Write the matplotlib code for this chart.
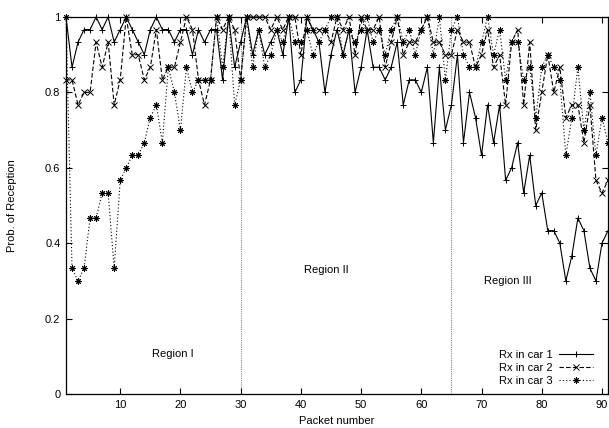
import matplotlib
matplotlib.use("Agg")
import matplotlib.pyplot as plt
import numpy as np

packets = list(range(1, 92))

car1 = [1, 0.8667, 0.9333, 0.9667, 0.9667, 1, 0.9667, 1, 0.9333, 0.9667,
        1, 0.9667, 0.9333, 0.9, 0.9667, 1, 0.9667, 0.9667, 0.9333, 0.9667,
        0.9667, 0.9, 0.9667, 0.9333, 0.9667, 0.9667, 0.8333, 1, 0.8667, 0.9333,
        1, 0.9, 0.9667, 0.9, 0.9333, 0.9667, 0.9, 1, 0.8, 0.8333,
        1, 0.9667, 0.9333, 0.8, 0.9, 0.9667, 0.9, 0.9667, 0.8, 0.8667,
        0.9667, 0.8667, 0.8667, 0.8333, 0.8667, 0.9333, 0.7667, 0.8333, 0.8333, 0.8,
        0.8667, 0.6667, 0.8667, 0.7, 0.7667, 0.9, 0.6667, 0.8, 0.7333, 0.6333,
        0.7667, 0.6667, 0.7667, 0.5667, 0.6, 0.6667, 0.5333, 0.6333, 0.5, 0.5333,
        0.4333, 0.4333, 0.4, 0.3, 0.3667, 0.4667, 0.4333, 0.3333, 0.3, 0.4,
        0.4333]

car2 = [0.8333, 0.8333, 0.7667, 0.8, 0.8, 0.9333, 0.8667, 0.9333, 0.7667, 0.8333,
        1, 0.9, 0.9, 0.8333, 0.8667, 0.9667, 0.8333, 0.8667, 0.8667, 0.9333,
        1, 0.9667, 0.8333, 0.7667, 0.8333, 1, 0.9667, 1, 0.9667, 0.8333,
        1, 1, 1, 1, 0.9667, 1, 0.9667, 1, 1, 0.9,
        1, 0.9667, 0.9667, 0.9667, 0.9333, 1, 0.9667, 1, 0.9, 1,
        0.9667, 0.9667, 1, 0.8667, 0.9333, 1, 0.9, 0.9333, 0.9333, 0.9667,
        1, 0.9333, 0.9333, 0.9, 0.9, 0.9667, 0.9333, 0.9333, 0.8667, 0.9,
        0.9667, 0.8667, 0.9, 0.7667, 0.9333, 0.9667, 0.7667, 0.9333, 0.7, 0.8,
        0.9, 0.8, 0.8667, 0.7333, 0.7667, 0.7667, 0.6667, 0.7667, 0.5667, 0.5333,
        0.5667]

car3 = [1, 0.3333, 0.3, 0.3333, 0.4667, 0.4667, 0.5333, 0.5333, 0.3333, 0.5667,
        0.6, 0.6333, 0.6333, 0.6667, 0.7333, 0.7667, 0.6667, 0.8667, 0.8, 0.7,
        0.8667, 0.8, 0.8333, 0.8333, 0.8333, 1, 0.8667, 1, 0.7667, 0.8333,
        1, 0.8667, 0.9667, 0.8667, 0.9, 0.9667, 0.9333, 1, 0.9333, 0.9333,
        0.9667, 0.9, 0.9333, 0.9667, 1, 1, 0.9, 0.9667, 0.9333, 0.9667,
        1, 0.9333, 0.9667, 0.9, 0.9667, 1, 0.9333, 0.9667, 0.9, 0.9667,
        1, 0.9, 1, 0.8333, 0.9667, 1, 0.9, 0.8667, 0.8667, 0.9333,
        1, 0.9, 0.9667, 0.8333, 0.9333, 0.9333, 0.8333, 0.8667, 0.7333, 0.8667,
        0.9, 0.8667, 0.8333, 0.6333, 0.7333, 0.8667, 0.7, 0.8, 0.6333, 0.7333,
        0.6667]

labels = ["Rx in car 1", "Rx in car 2", "Rx in car 3"]
region_bounds = [30, 65]
region_names = ["Region I", "Region II", "Region III"]
region_pos = [(18.7, 0.106), (44.3, 0.33), (74.3, 0.30)]
xticks = [10, 20, 30, 40, 50, 60, 70, 80, 90]
yticks = [0, 0.2, 0.4, 0.6, 0.8, 1]
ytick_labels = ["0", "0.2", "0.4", "0.6", "0.8", "1"]

plt.rcParams['font.family'] = ['Liberation Sans', 'DejaVu Sans']

fig = plt.figure(figsize=(6.09, 4.28), dpi=100)
ax = fig.add_axes([66/609, 34/428, (608-66)/609, (394-17)/428])

for b in region_bounds:
    ax.plot([b, b], [0, 1], color='#888888', linestyle=(0, (1, 1)), linewidth=0.8, zorder=1)

ax.plot(packets, car1, color='black', linestyle='-', linewidth=0.8, marker='+',
        markersize=5, markeredgewidth=0.7, label=labels[0], clip_on=False, zorder=3)
ax.plot(packets, car2, color='black', linestyle=(0, (4, 2)), linewidth=0.8, marker='x',
        markersize=4, markeredgewidth=0.7, label=labels[1], clip_on=False, zorder=3)
ax.plot(packets, car3, color='black', linestyle=(0, (1, 2)), linewidth=0.8, marker=(8, 2, 0),
        markersize=4.5, markeredgewidth=0.7, label=labels[2], clip_on=False, zorder=3)

for name, (x, y) in zip(region_names, region_pos):
    ax.text(x, y, name, ha='center', va='center', fontsize=8)

ax.set_xlim(1, 91)
ax.set_ylim(0, 1)
ax.set_xticks(xticks)
ax.set_yticks(yticks)
ax.set_yticklabels(ytick_labels)
ax.tick_params(direction='in', top=True, right=True, length=4, width=0.8, labelsize=8, pad=4)
for s in ax.spines.values():
    s.set_linewidth(0.9)

ax.set_xlabel("Packet number", fontsize=8, labelpad=5)
ax.set_ylabel("Prob. of Reception", fontsize=8, labelpad=20)

leg = ax.legend(loc='lower right', frameon=False, fontsize=8, markerfirst=False,
                handlelength=3.0, handletextpad=0.6, labelspacing=0.25,
                bbox_to_anchor=(0.99, -0.005))

fig.savefig("out.png", dpi=100)
